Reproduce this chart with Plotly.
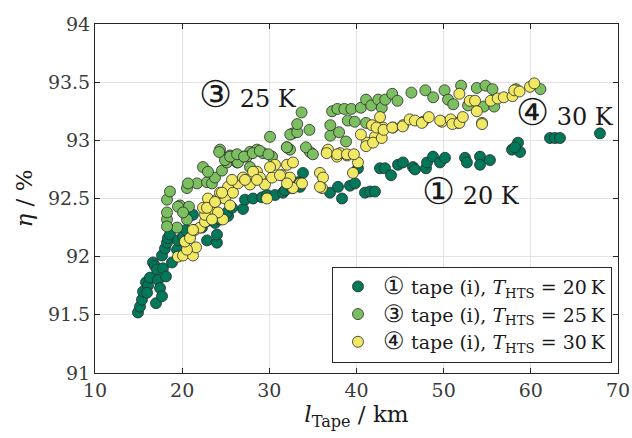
import plotly.graph_objects as go

# Efficiency vs. tape length for three HTS operating temperatures
len_20k = [14.93, 15.16, 15.39, 15.51, 15.85, 16.08, 16.31, 15.97, 16.65, 16.88, 17.11, 17.00,
           17.23, 17.46, 17.69, 17.80, 18.14, 17.69, 18.03, 18.26, 18.37, 18.60, 18.83, 19.41,
           19.52, 20.10, 20.44, 21.24, 22.27, 22.85, 23.99, 23.99, 23.77, 24.34, 22.73, 25.26,
           25.14, 25.72, 26.98, 27.21, 28.13, 29.16, 29.73, 30.65, 31.57, 31.80, 32.60, 33.52,
           33.86, 33.29, 36.96, 37.88, 38.34, 39.25, 39.83, 40.17, 40.97, 41.55, 42.12, 42.69,
           43.27, 43.96, 44.76, 45.33, 46.48, 46.71, 47.97, 48.09, 48.78, 49.58, 50.15, 52.45,
           52.67, 54.17, 54.17, 55.31, 57.84, 58.53, 58.76, 58.18, 62.20, 62.77, 63.34, 67.93]
eta_20k = [91.52, 91.57, 91.63, 91.70, 91.78, 91.75, 91.82, 91.69, 91.95, 91.92, 91.89, 91.60,
           91.80, 91.73, 91.66, 91.90, 91.83, 92.01, 92.07, 92.12, 92.16, 92.19, 91.95, 92.06,
           92.14, 92.17, 92.23, 92.36, 92.25, 92.14, 92.12, 92.19, 92.29, 92.32, 92.30, 92.35,
           92.38, 92.42, 92.41, 92.49, 92.50, 92.51, 92.53, 92.53, 92.55, 92.57, 92.59, 92.60,
           92.72, 92.64, 92.55, 92.60, 92.50, 92.61, 92.63, 92.76, 92.55, 92.56, 92.56, 92.76,
           92.76, 92.70, 92.79, 92.81, 92.77, 92.75, 92.76, 92.81, 92.86, 92.81, 92.85, 92.85,
           92.81, 92.86, 92.79, 92.83, 92.92, 92.98, 92.90, 92.94, 93.02, 93.02, 93.02, 93.06]

len_25k = [18.26, 18.26, 18.26, 18.60, 19.41, 19.75, 20.55, 20.78, 20.55, 21.70, 22.39, 22.85,
           23.42, 23.77, 24.57, 25.14, 25.49, 26.29, 26.98, 27.78, 29.27, 30.31, 32.37, 34.66,
           19.52, 20.10, 20.67, 22.96, 24.34, 24.91, 26.40, 27.44, 27.78, 28.58, 30.08, 32.03,
           32.71, 18.26, 24.24, 25.50, 26.30, 27.10, 28.10, 28.90, 29.90, 32.00, 32.40, 33.20,
           33.20, 33.70, 34.60, 34.20, 35.00, 37.00, 37.00, 37.20, 37.80, 38.60, 39.40, 39.00,
           39.80, 38.00, 38.80, 40.50, 41.10, 41.10, 41.70, 42.50, 42.90, 43.30, 44.10, 44.70,
           46.30, 47.90, 48.80, 50.10, 50.50, 51.10, 52.00, 52.80, 53.80, 54.80, 55.60, 54.60,
           55.80, 58.30, 61.10]
eta_25k = [92.32, 92.38, 92.49, 92.56, 92.25, 92.44, 92.32, 92.43, 92.59, 92.63, 92.77, 92.64,
           92.63, 92.68, 92.74, 92.81, 92.87, 92.81, 92.86, 92.90, 92.89, 92.86, 92.92, 92.90,
           92.43, 92.38, 92.63, 92.73, 92.92, 92.83, 92.81, 92.86, 92.77, 92.92, 93.03, 92.94,
           93.06, 92.26, 92.90, 92.86, 92.88, 92.86, 92.89, 92.91, 92.88, 92.94, 93.05, 93.07,
           93.14, 93.24, 93.09, 92.94, 92.88, 93.04, 93.13, 93.25, 93.27, 93.27, 93.27, 93.17,
           93.16, 93.07, 92.99, 93.28, 93.35, 93.15, 93.30, 93.35, 93.28, 93.35, 93.40, 93.34,
           93.41, 93.43, 93.37, 93.43, 93.35, 93.31, 93.47, 93.30, 93.45, 93.47, 93.44, 93.29,
           93.29, 93.44, 93.44]

len_30k = [19.52, 20.10, 21.24, 21.59, 20.55, 20.32, 20.90, 21.47, 22.05, 22.62, 23.19, 23.54,
           22.62, 22.39, 22.96, 24.00, 24.68, 24.91, 25.49, 24.34, 25.26, 25.83, 26.40, 26.98,
           27.78, 28.58, 28.93, 29.73, 29.50, 30.31, 30.65, 31.45, 32.03, 32.71, 32.37, 33.52,
           32.71, 35.81, 36.04, 36.61, 37.76, 38.91, 39.60, 36.16, 35.81, 36.73, 38.11, 40.17,
           41.20, 42.12, 41.78, 43.04, 44.19, 45.33, 47.63, 49.81, 51.07, 51.64, 54.40, 33.75,
           22.85, 23.77, 24.57, 25.72, 27.21, 28.13, 28.58, 30.08, 31.22, 32.03, 24.11, 23.42,
           21.24, 36.58, 37.80, 38.90, 39.70, 41.10, 41.90, 42.90, 40.50, 42.30, 42.70, 43.10,
           44.10, 45.30, 46.10, 46.70, 47.50, 48.30, 49.60, 50.80, 51.00, 51.80, 52.20, 54.40,
           51.80, 53.00, 53.60, 53.80, 55.40, 56.20, 56.90, 57.90, 58.10, 58.70, 59.90, 60.40]
eta_30k = [92.00, 92.01, 92.01, 92.08, 92.06, 92.13, 92.16, 92.23, 92.25, 92.30, 92.36, 92.38,
           92.36, 92.42, 92.50, 92.49, 92.32, 92.50, 92.44, 92.55, 92.60, 92.55, 92.63, 92.68,
           92.62, 92.73, 92.68, 92.50, 92.62, 92.68, 92.79, 92.70, 92.79, 92.81, 92.68, 92.63,
           92.59, 92.72, 92.59, 92.90, 92.86, 92.87, 92.72, 92.68, 92.60, 92.92, 92.89, 92.81,
           92.98, 93.03, 93.13, 93.11, 93.11, 93.13, 93.16, 93.16, 93.16, 93.15, 93.15, 92.63,
           92.42, 92.47, 92.55, 92.66, 92.66, 92.73, 92.66, 92.77, 92.70, 92.63, 92.38, 92.32,
           92.23, 92.89, 92.88, 92.88, 92.88, 92.95, 92.98, 93.02, 93.05, 93.11, 93.20, 93.09,
           93.11, 93.12, 93.18, 93.17, 93.15, 93.20, 93.17, 93.18, 93.14, 93.15, 93.20, 93.14,
           93.40, 93.34, 93.34, 93.25, 93.34, 93.36, 93.37, 93.38, 93.43, 93.42, 93.46, 93.49]

x_ticks = [10, 20, 30, 40, 50, 60, 70]
y_ticks = [91, 91.5, 92, 92.5, 93, 93.5, 94]

SERIF = "DejaVu Serif"


def circled(ch, size):
    return f'<span style="font-size:{size}px">{ch}</span>'


series = [
    (len_20k, eta_20k, "#00785A", "①", "20"),
    (len_25k, eta_25k, "#7BBF60", "③", "25"),
    (len_30k, eta_30k, "#F1E964", "④", "30"),
]

fig = go.Figure()
for xs, ys, col, digit, temp in series:
    fig.add_trace(go.Scatter(
        x=xs, y=ys, mode="markers",
        marker=dict(size=11, color=col, line=dict(color="#2a2a2a", width=0.8)),
        name=f"{circled(digit, 24)} tape (i), <i>T</i><sub>HTS</sub> = {temp}\u2009K",
    ))

# In-plot labels
labels = [
    (21.7, 93.39, "③", "25"),
    (58.1, 93.24, "④", "30"),
    (47.3, 92.56, "①", "20"),
]
for lx, ly, d, t in labels:
    fig.add_annotation(x=lx, y=ly, xanchor="left", yanchor="middle", showarrow=False,
                       text=f"{circled(d, 37)} {t} K",
                       font=dict(family=SERIF, size=24, color="#1a1a1a"))

axis_common = dict(
    showline=True, linecolor="#262626", linewidth=1, mirror="ticks",
    ticks="inside", ticklen=5, tickcolor="#262626",
    showgrid=True, gridcolor="#e3e3e3", gridwidth=1, zeroline=False,
    automargin=False,
    tickfont=dict(family=SERIF, size=19, color="#3a3a3a"),
)

fig.update_xaxes(range=[10, 70], tickvals=x_ticks,
                 title=dict(text="<i>l</i><sub>Tape</sub> / km",
                            font=dict(family=SERIF, size=23, color="#1a1a1a"), standoff=6),
                 **axis_common)
fig.update_yaxes(range=[91, 94], tickvals=y_ticks,
                 title=dict(text="<i>η</i> / %",
                            font=dict(family=SERIF, size=23, color="#1a1a1a"), standoff=8),
                 **axis_common)

fig.update_layout(
    width=632, height=438,
    margin=dict(l=95, r=14, t=24, b=65, autoexpand=False),
    paper_bgcolor="white", plot_bgcolor="white",
    showlegend=True,
    legend=dict(x=0.9885, y=0.03, xanchor="right", yanchor="bottom",
                bgcolor="white", bordercolor="#262626", borderwidth=1,
                font=dict(family=SERIF, size=19, color="#1a1a1a"),
                tracegroupgap=0, itemwidth=40),
)

fig.write_html("out.html")
